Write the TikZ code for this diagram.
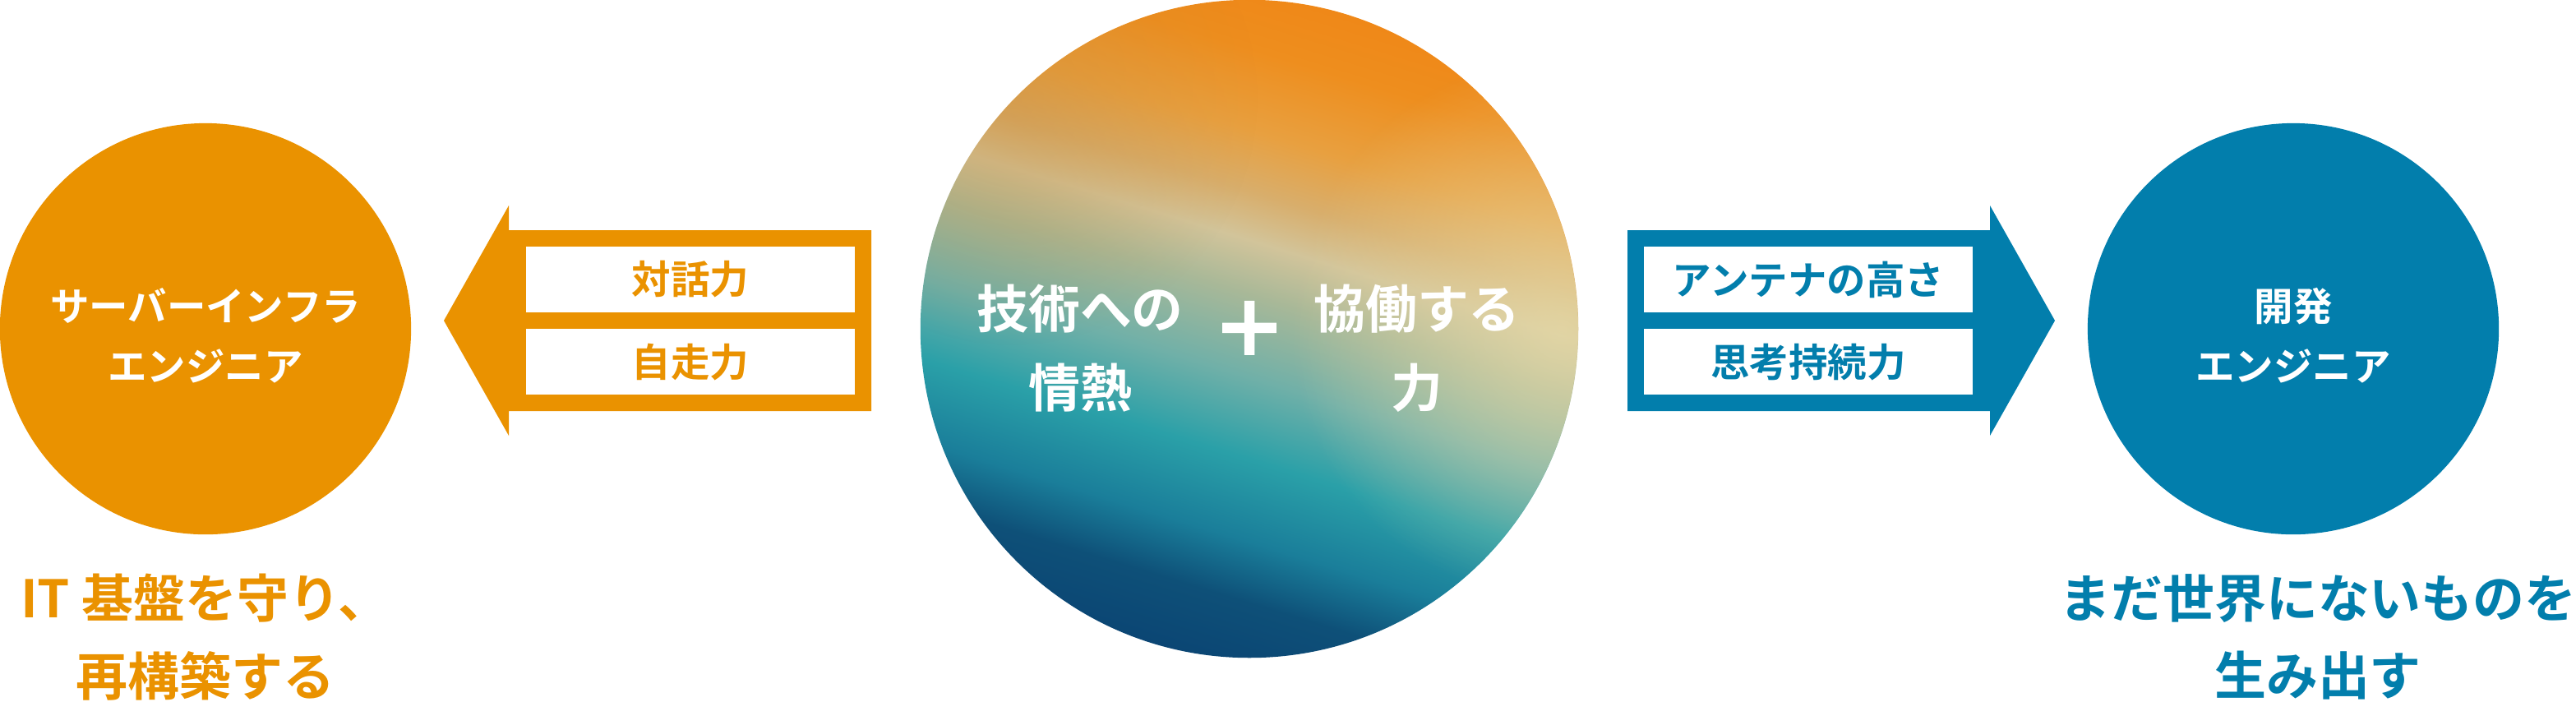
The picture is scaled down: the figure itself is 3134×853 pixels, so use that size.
\documentclass[tikz,border=0pt]{standalone}
\usepackage{fontspec}
\setmainfont{Noto Sans CJK JP}[BoldFont={Noto Sans CJK JP Bold}]
\newfontfamily\plusfont{Noto Sans CJK JP Bold}[FakeBold=4]
\usetikzlibrary{positioning, fadings}

\definecolor{infraorange}{HTML}{EA9200}
\definecolor{devblue}{HTML}{027EAC}
\definecolor{gnavy}{HTML}{0B4674}
\definecolor{gdusk}{HTML}{0E5078}
\definecolor{gdeep}{HTML}{1A7E9A}
\definecolor{gteal}{HTML}{2AA0A8}
\definecolor{glight}{HTML}{70B0A8}
\definecolor{ggrey}{HTML}{A8B898}
\definecolor{gpale}{HTML}{D2C49A}
\definecolor{gtan}{HTML}{D8AE6C}
\definecolor{gamber}{HTML}{E8A040}
\definecolor{gorange}{HTML}{EE8E1E}
\definecolor{gsun}{HTML}{EF8818}
\definecolor{gcream}{HTML}{E6DAA8}
\definecolor{gbrown}{HTML}{C9852E}

\pgfdeclareverticalshading{passionglow}{100bp}{color(0bp)=(gnavy); color(25bp)=(gnavy);
  color(30bp)=(gdusk); color(34.5bp)=(gdeep); color(40.5bp)=(gteal); color(46.5bp)=(glight);
  color(52.5bp)=(ggrey); color(56.5bp)=(gpale); color(60bp)=(gtan); color(64.5bp)=(gamber);
  color(70.5bp)=(gorange); color(75bp)=(gsun); color(100bp)=(gsun)}
\tikzfading[name=glowfade, inner color=transparent!25, outer color=transparent!100]
\tikzfading[name=dimfade, inner color=transparent!65, outer color=transparent!100]

\begin{document}
\begin{tikzpicture}[x=0.01cm, y=-0.01cm,
  bubble/.style={circle, minimum size=5cm, inner sep=0pt, outer sep=0pt},
  bubbletext/.style={align=center, text=white, font=\bfseries\fontsize{13.5}{20.8}\selectfont},
  tagbox/.style={fill=white, minimum width=4cm, minimum height=0.8cm, inner sep=0pt, outer sep=0pt,
    font=\bfseries\fontsize{13.5}{16}\selectfont},
  coretext/.style={align=center, text=white, font=\bfseries\fontsize{17.9}{27.3}\selectfont},
  goaltext/.style={align=center, font=\bfseries\fontsize{17.9}{26.8}\selectfont}]
\useasboundingbox (0,0) rectangle (3134,853);

\node (core) [circle, minimum size=8cm, inner sep=0pt, shading=passionglow, shading angle=-17] at (1520,400) {};
\begin{scope}
  \clip (core.center) circle (400);
  \fill[gcream, path fading=glowfade] (1900,400) circle (330);
  \fill[gbrown, path fading=dimfade] (1230,120) circle (300);
\end{scope}
\node (passion) [coretext] at (1314,424) {技術への\\情熱};
\node (plus) [text=white, font=\plusfont\fontsize{25}{25}\selectfont] at (1520,400) {＋};
\node (cowork) [coretext] at (1724,424) {協働する\\力};

\node (infra) [bubble, fill=infraorange] at (250,400) {};
\node (infralabel) [bubbletext] at (250,408) {サーバーインフラ\\エンジニア};
\node (dev) [bubble, fill=devblue] at (2790,400) {};
\node (devlabel) [bubbletext] at (2790,408) {開発\\エンジニア};

\fill[infraorange] (1060,280) -- (619,280) -- (619,250) -- (540,390) -- (619,530) -- (619,500) -- (1060,500) -- cycle;
\fill[devblue] (1980,280) -- (2421,280) -- (2421,250) -- (2500,390) -- (2421,530) -- (2421,500) -- (1980,500) -- cycle;

\node (dialogue) [tagbox, text=infraorange] at (840,340) {対話力};
\node (selfdrive) [tagbox, text=infraorange, below=0.2cm of dialogue] {自走力};
\node (antenna) [tagbox, text=devblue] at (2200,340) {アンテナの高さ};
\node (thinking) [tagbox, text=devblue, below=0.2cm of antenna] {思考持続力};

\node (infragoal) [goaltext, text=infraorange] at (250,775) {IT 基盤を守り、\\再構築する};
\node (devgoal) [goaltext, text=devblue] at (2820,775) {まだ世界にないものを\\生み出す};
\end{tikzpicture}
\end{document}
